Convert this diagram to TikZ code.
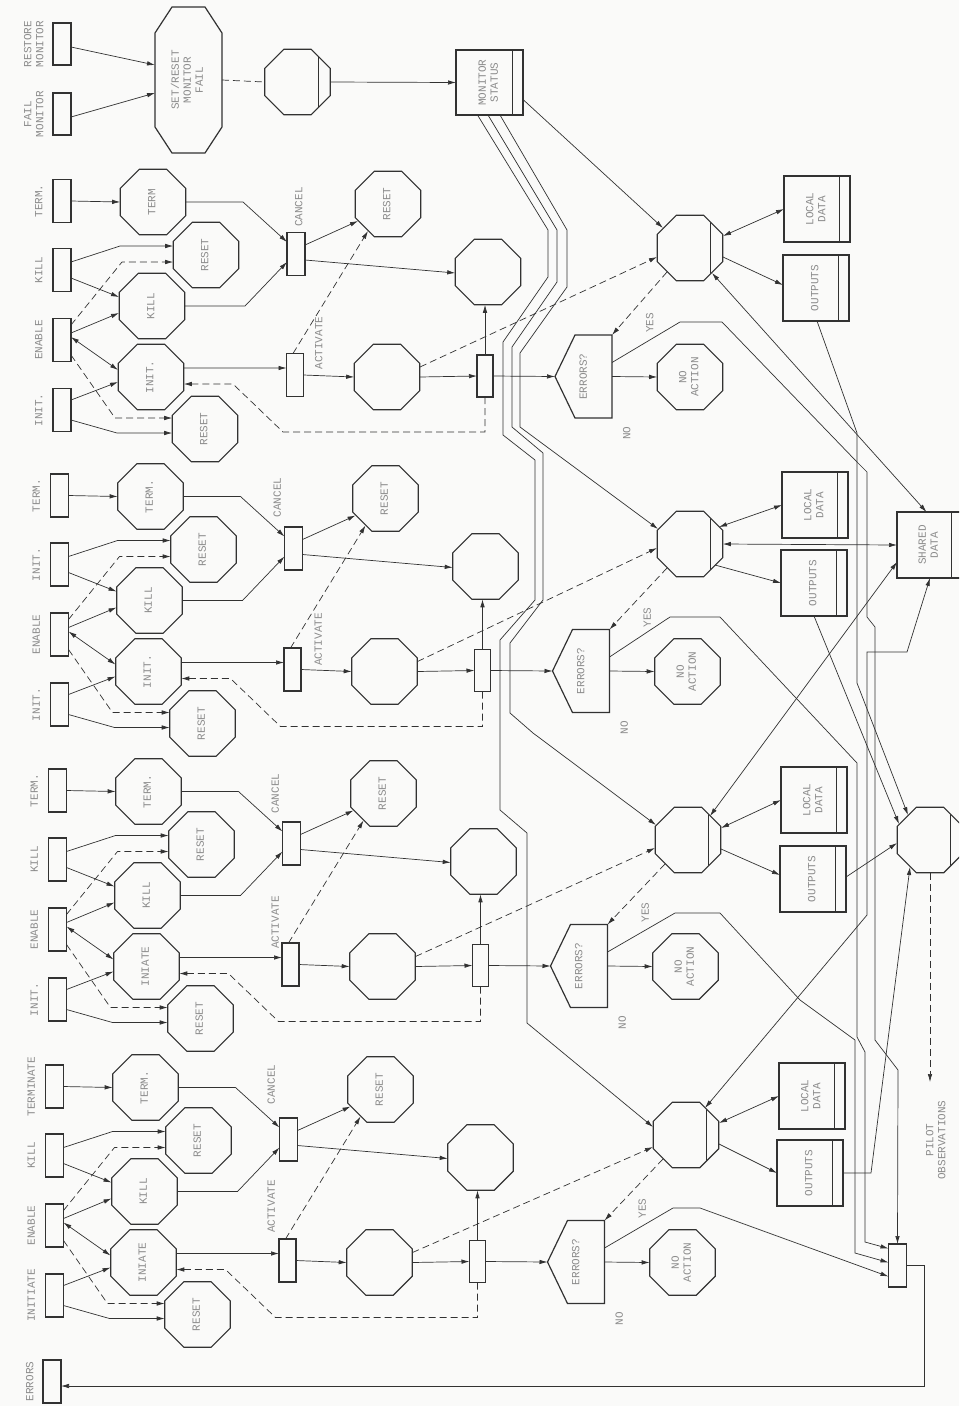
\documentclass[tikz,border=0pt]{standalone}
\usepackage{fontspec}
\usepackage{graphicx}
\usetikzlibrary{arrows.meta,shapes.geometric}
\newfontfamily\plotfont{Liberation Mono}
\definecolor{ln}{RGB}{50,50,50}
\definecolor{txt}{RGB}{140,140,140}
\definecolor{bg}{RGB}{250,250,249}
\newcommand\rt[1]{\rotatebox{90}{\begin{tabular}{@{}c@{}}#1\end{tabular}}}
\tikzset{
 every node/.style={inner sep=0pt, outer sep=0pt, text=txt, font={\plotfont\fontsize{11}{12}\selectfont}},
 shp/.style={draw=ln, line width=1.2pt},
 ibox/.style={shp, rectangle, minimum width=18pt, minimum height=43pt},
 oct/.style={shp, regular polygon, regular polygon sides=8, minimum size=71pt},
 soct/.style={oct, path picture={\draw[ln,line width=0.9pt] ([xshift=-12pt]path picture bounding box.north east) -- ([xshift=-12pt]path picture bounding box.south east);}},
 store/.style={shp, rectangle, minimum width=66pt, minimum height=66pt, path picture={\draw[ln,line width=0.9pt] ([xshift=-11pt]path picture bounding box.north east) -- ([xshift=-11pt]path picture bounding box.south east);}},
 con/.style={draw=ln, line width=0.7pt},
 arr/.style={con, -{Latex[length=8pt,width=4.5pt]}},
 darr/.style={con, {Latex[length=8pt,width=4.5pt]}-{Latex[length=8pt,width=4.5pt]}},
 dsh/.style={dash pattern=on 7pt off 4pt},
}
% #1 prefix, #2 dx, #3 dy, #4 box1 label, #5 box2 label, #6 box4 label, #7 term text, #8 init text
\newcommand\lanepic[8]{%
\begin{scope}[shift={(#2,#3)}]
 \node[ibox] (#1b1) at (62,201) {};
 \node[ibox] (#1b2) at (62,270) {};
 \node[ibox] (#1b3) at (62,340) {};
 \node[ibox] (#1b4) at (62,410) {};
 \node (#1l1) at (40,201) {\rt{#4}};
 \node (#1l2) at (40,270) {\rt{#5}};
 \node (#1l3) at (40,340) {\rt{ENABLE}};
 \node (#1l4) at (40,410) {\rt{#6}};
 \node[oct] (#1term) at (153,202) {\rt{#7}};
 \node[oct] (#1rs1) at (206,255) {\rt{RESET}};
 \node[oct] (#1kill) at (152,306) {\rt{KILL}};
 \node[oct] (#1init) at (151,377) {\rt{#8}};
 \node[oct] (#1rs2) at (205,429) {\rt{RESET}};
 \node[ibox] (#1cancel) at (296,254) {};
 \node[ibox,minimum width=17pt] (#1act) at (295,375) {};
 \node (#1cl) at (\clx,\cly) {\rt{CANCEL}};
 \node (#1al) at (\alx,\aly) {\rt{ACTIVATE}};
 \node[oct] (#1rs3) at (388,204) {\rt{RESET}};
 \node[oct] (#1xo) at (488,272) {};
 \node[oct] (#1p) at (387,377) {};
 \node[ibox,minimum width=16pt,minimum height=42pt] (#1q) at (485,376) {};
 \node[minimum width=37pt,minimum height=83pt] (#1err) at (593.5,376.5) {};
 \coordinate (#1tip) at (555,376.5);
 \draw[shp] (#1err.north west) -- (#1err.north east) -- (#1err.south east) -- (#1err.south west) -- (#1tip) -- cycle;
 \node (#1errl) at ([shift={(-9,0)}]#1err.center) {\rt{ERRORS?}};
 \node[oct] (#1noact) at (690,377) {\rt{NO\\ACTION}};
 \node (#1no) at (628,433) {\rt{NO}};
 \node (#1yes) at (651,323) {\rt{YES}};
 % connectors
 \draw[arr] (#1b1.east) -- (#1term.west);
 \draw[arr] ([shift={(0,-8)}]#1b2.east) -- (120,246) -- ([shift={(0,-9)}]#1rs1.west);
 \draw[arr] ([shift={(0,8)}]#1b2.east) -- ([shift={(-33,-9)}]#1kill.center);
 \draw[arr] ([shift={(0,-7)}]#1b3.east) -- ([shift={(-33,7)}]#1kill.center);
 \draw[arr,dsh] ([shift={(0,-15)}]#1b3.east) -- (122,262) -- ([shift={(0,7)}]#1rs1.west);
 \draw[darr] ([shift={(0,-3)}]#1b3.east) -- ([shift={(-33,-7)}]#1init.center);
 \draw[arr] ([shift={(0,-10)}]#1b4.east) -- ([shift={(-33,5)}]#1init.center);
 \draw[arr,dsh] ([shift={(0,15)}]#1b3.east) -- (115,418) -- ([shift={(0,-11)}]#1rs2.west);
 \draw[arr] ([shift={(0,10)}]#1b4.east) -- (117,433) -- ([shift={(0,4)}]#1rs2.west);
 \draw[arr] (#1term.east) -- (243,202) -- ([shift={(0,-12)}]#1cancel.west);
 \draw[arr] (#1kill.east) -- (245,306) -- ([shift={(0,8)}]#1cancel.west);
 \draw[arr] ([shift={(0,-9)}]#1init.east) -- ([shift={(0,-7)}]#1act.west);
 \draw[arr,dsh] (#1q.south) -- (485,432) -- (283,432) -- (233,384) -- ([shift={(0,7)}]#1init.east);
 \draw[arr,dsh] ([shift={(-2,0)}]#1act.north) -- ([shift={(-20,27)}]#1rs3.center);
 \draw[arr] ([shift={(0,-9)}]#1cancel.east) -- ([shift={(-30,17)}]#1rs3.center);
 \draw[arr] ([shift={(0,6)}]#1cancel.east) -- ([shift={(0,1)}]#1xo.west);
 \draw[arr] (#1act.east) -- (#1p.west);
 \draw[arr] (#1p.east) -- (#1q.west);
 \draw[arr] (#1q.north) -- (#1q.north |- #1xo.south);
 \draw[arr] (#1q.east) -- (#1tip);
 \draw[arr] (#1err.east) -- (#1noact.west);
\end{scope}}

\begin{document}
\begin{tikzpicture}[x=1pt,y=-1pt]
\useasboundingbox (0,0) rectangle (959,1406);
\clip (0,0) rectangle (959,1406);
\fill[bg] (0,0) rectangle (959,1406);

% ---------- monitor section ----------
\node[ibox,minimum height=42pt] (restore) at (62,44) {};
\node[ibox,minimum height=42pt] (fail) at (62,114) {};
\node (restorel) at (35,44) {\rt{RESTORE\\MONITOR}};
\node (faill) at (35,114) {\rt{FAIL\\MONITOR}};
\node[minimum width=67pt,minimum height=146pt] (setr) at (188.5,80) {\rt{SET/RESET\\MONITOR\\FAIL}};
\draw[shp] ([shift={(17,0)}]setr.north west) -- ([shift={(-17,0)}]setr.north east) -- ([shift={(0,26)}]setr.north east) -- ([shift={(0,-26)}]setr.south east) -- ([shift={(-17,0)}]setr.south east) -- ([shift={(17,0)}]setr.south west) -- ([shift={(0,-26)}]setr.south west) -- ([shift={(0,26)}]setr.north west) -- cycle;
\node[soct] (monoct) at (297.5,82) {};
\node[store,minimum width=67pt,minimum height=65pt] (monst) at (489.5,82.5) {\rt{MONITOR\\STATUS}};
\draw[arr] ([shift={(0,3)}]restore.east) -- ([shift={(0,-15)}]setr.west);
\draw[arr] ([shift={(0,3)}]fail.east) -- ([shift={(0,13)}]setr.west);
\draw[con,dsh] (setr.east) -- (monoct.west);
\draw[arr] (monoct.east) -- (monst.west);

% ---------- lanes ----------
\def\clx{300}\def\cly{207}\def\alx{320}\def\aly{343}
\lanepic{A}{0}{0}{TERM.}{KILL}{INIT.}{TERM}{INIT.}
\def\clx{281}\def\cly{203}\def\alx{322}\def\aly{345}
\lanepic{B}{-2.5}{294.5}{TERM.}{INIT.}{INIT.}{TERM.}{INIT.}
\def\clx{281}\def\cly{204}\def\alx{281}\def\aly{333}
\lanepic{C}{-4.5}{589.5}{TERM.}{KILL}{INIT.}{TERM.}{INIATE}
\def\clx{280}\def\cly{199}\def\alx{280}\def\aly{321}
\lanepic{D}{-7.5}{885.5}{TERMINATE}{KILL}{INITIATE}{TERM.}{INIATE}

% ---------- right column ----------
\node[soct] (RA) at (690,248) {};
\node[soct] (RB) at (690,544) {};
\node[soct] (RC) at (688,840) {};
\node[soct] (RD) at (686,1135) {};
\node[store] (LA) at (817,209) {\rt{LOCAL\\DATA}};
\node[store] (LB) at (815,505) {\rt{LOCAL\\DATA}};
\node[store] (LC) at (814,800) {\rt{LOCAL\\DATA}};
\node[store] (LD) at (812,1096) {\rt{LOCAL\\DATA}};
\node[store] (OA) at (816,288) {\rt{OUTPUTS}};
\node[store] (OB) at (814,583) {\rt{OUTPUTS}};
\node[store] (OC) at (813,879) {\rt{OUTPUTS}};
\node[store] (OD) at (810,1173) {\rt{OUTPUTS}};
\node[store,minimum width=65pt] (SH) at (929.5,545) {\rt{SHARED\\DATA}};
\node[soct] (S) at (930,840) {};
\node[ibox] (Z) at (897.5,1265.5) {};
\node[ibox] (errbox) at (52,1381.5) {};
\node (errboxl) at (31,1381.5) {\rt{ERRORS}};
\coordinate (pilot) at (930,1082);
\node (pilotl) at (937,1140) {\rt{PILOT\\OBSERVATIONS}};

% monitor status outputs
\draw[arr] ([shift={(0,17)}]monst.east) -- ([shift={(-27,-20)}]RA.center);
\draw[arr] ([shift={(10.5,0)}]monst.south) -- (567,230) -- (567,287) -- (520,353) -- (520,427) -- ([shift={(-32,-15)}]RB.center);
\draw[arr] ([shift={(-1.5,0)}]monst.south) -- (557,230) -- (557,282) -- (512,347) -- (512,427) -- (543,453) -- (543,600) -- (510,643) -- (510,713) -- (533,733) -- ([shift={(-32,-15)}]RC.center);
\draw[arr] ([shift={(-12,0)}]monst.south) -- (548,230) -- (548,277) -- (503,342) -- (503,435) -- (535,460) -- (535,600) -- (500,640) -- (500,810) -- (527,833) -- (527,1023) -- ([shift={(-33,-8)}]RD.center);

% activation dashed lines and error checks
\draw[arr,dsh] ([shift={(33,-10)}]Ap.center) -- ([shift={(-33,9)}]RA.center);
\draw[arr,dsh] ([shift={(33,-10)}]Bp.center) -- ([shift={(-33,4)}]RB.center);
\draw[arr,dsh] ([shift={(33,-10)}]Cp.center) -- ([shift={(-33,8)}]RC.center);
\draw[arr,dsh] ([shift={(33,-10)}]Dp.center) -- ([shift={(-33,12)}]RD.center);
\draw[arr,dsh] ([shift={(-23,24)}]RA.center) -- (Aerr.north east);
\draw[arr,dsh] ([shift={(-23,24)}]RB.center) -- (Berr.north east);
\draw[arr,dsh] ([shift={(-23,24)}]RC.center) -- (Cerr.north east);
\draw[arr,dsh] ([shift={(-23,24)}]RD.center) -- (Derr.north east);

% local data and outputs
\draw[darr] ([shift={(33,-12)}]RA.center) -- (LA.west);
\draw[arr] ([shift={(33,9)}]RA.center) -- ([shift={(0,-3)}]OA.west);
\draw[darr] ([shift={(29,-17)}]RB.center) -- (LB.west);
\draw[arr] ([shift={(25,21)}]RB.center) -- (OB.west);
\draw[darr] ([shift={(33,-12)}]RC.center) -- (LC.west);
\draw[arr] ([shift={(33,9)}]RC.center) -- ([shift={(0,-4)}]OC.west);
\draw[darr] ([shift={(33,-12)}]RD.center) -- (LD.west);
\draw[arr] ([shift={(33,9)}]RD.center) -- (OD.west);

% shared data
\draw[darr] ([shift={(22,25)}]RA.center) -- ([shift={(-3,0)}]SH.north);
\draw[darr] (RB.east) -- (SH.west);
\draw[darr] ([shift={(22,-24)}]RC.center) -- ([shift={(0,17)}]SH.west);
\draw[darr] ([shift={(19,-27)}]RD.center) -- (867,915) -- (867,652) -- (907,652) -- ([shift={(0.5,0)}]SH.south);

% outputs to pilot display
\draw[arr] ([shift={(1,0)}]OA.south) -- (857,433) -- (857,683) -- ([shift={(-22,-25)}]S.center);
\draw[arr] (OB.south) -- ([shift={(-31,-16)}]S.center);
\draw[arr] ([shift={(0,-2)}]OC.east) -- ([shift={(-33,3)}]S.center);
\draw[arr] (OD.east) -- (871,1173) -- ([shift={(-20,27)}]S.center);
\draw[arr,dsh] (S.south) -- (pilot);

% YES branches to error collector
\draw[arr] ([shift={(0,-14)}]Aerr.east) -- (680,322) -- (722,322) -- (857,462) -- (867,472) -- (867,617) -- (875,627) -- (875,1040) -- (898,1070) -- (Z.north);
\draw[arr] ([shift={(0,-14)}]Berr.east) -- (670,617) -- (720,617) -- (857,763) -- (857,1037) -- (865,1052) -- (865,1242) -- ([shift={(0,-17)}]Z.west);
\draw[arr] ([shift={(0,-14)}]Cerr.east) -- (675,913) -- (720,913) -- (800,1000) -- (855,1040) -- (855,1253) -- ([shift={(0,-3)}]Z.west);
\draw[arr] ([shift={(0,-14)}]Derr.east) -- (673,1208) -- (700,1208) -- ([shift={(0,11)}]Z.west);
\draw[arr] (Z.east) -- (924,1265.5) -- (924,1386) -- ([shift={(0,4.5)}]errbox.east);
\end{tikzpicture}
\end{document}
